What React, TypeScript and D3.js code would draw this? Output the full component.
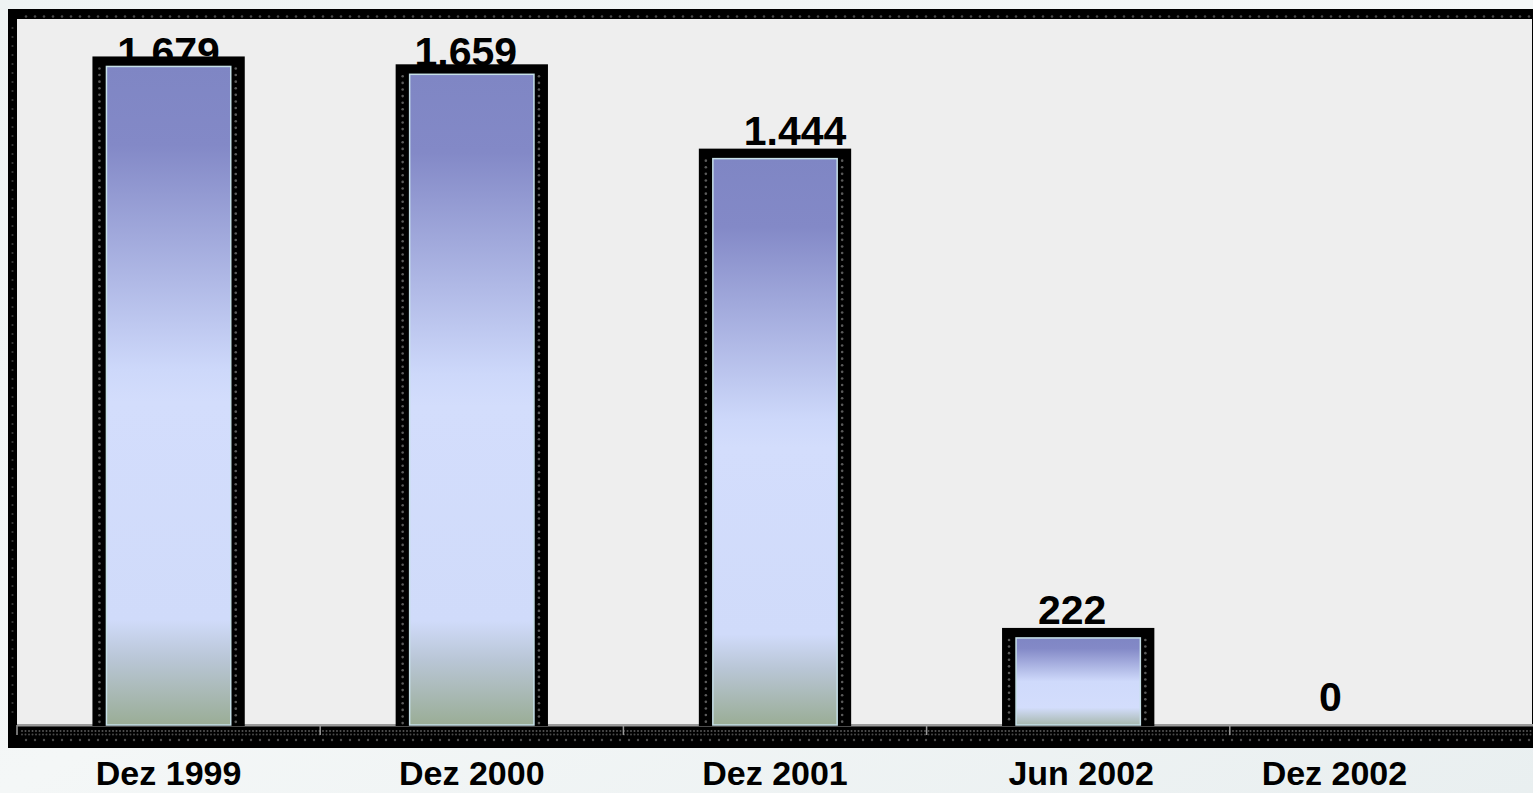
import React from 'react';
import * as d3 from 'd3';

const categories = ['Dez 1999', 'Dez 2000', 'Dez 2001', 'Jun 2002', 'Dez 2002'];
const values = [1679, 1659, 1444, 222, 0];
const valueLabels = ['1.679', '1.659', '1.444', '222', '0'];
// hand-placed text in the original slide is a little off the bar centres
const valueNudge = [0, -6, 20, -6, -51];
const categoryNudge = [0, 0, 0, 3, -47];

const W = 1533;
const H = 793;
const plot = { left: 17, right: 1532, top: 19, bottom: 725 };
const FONT = '"Liberation Sans", Arial, sans-serif';

const App: React.FC = () => {
  const x = d3
    .scaleBand<string>()
    .domain(categories)
    .range([plot.left, plot.right + 1])
    .paddingInner(0.59)
    .paddingOuter(0.295);
  const y = d3.scaleLinear().domain([0, 1800]).range([plot.bottom, plot.top]);

  const bw = x.bandwidth();
  const side = 14; // black frame around bars
  const cap = 10;

  // dotted decoration helpers
  const dotCol = (cx: number, y0: number, y1: number, step: number) =>
    d3.range(y0, y1, step).map((yy) => [cx, yy] as [number, number]);
  const dotRow = (cy: number, x0: number, x1: number, step: number) =>
    d3.range(x0, x1, step).map((xx) => [xx, cy] as [number, number]);

  return (
    <svg
      width={W}
      height={H}
      viewBox={`0 0 ${W} ${H}`}
      style={{ position: 'absolute', left: 0, top: 0, display: 'block' }}
    >
      <defs>
        <linearGradient id="bg" x1="0" y1="0" x2="1" y2="1">
          <stop offset="0" stopColor="#eef3f3" />
          <stop offset="0.5" stopColor="#f4f7f7" />
          <stop offset="1" stopColor="#e9eff0" />
        </linearGradient>
        <linearGradient id="barFill" x1="0" y1="0" x2="0" y2="1">
          <stop offset="0" stopColor="#7f86c4" />
          <stop offset="0.12" stopColor="#8389c7" />
          <stop offset="0.46" stopColor="#cdd8fa" />
          <stop offset="0.51" stopColor="#d3ddfc" />
          <stop offset="0.84" stopColor="#d0dbfa" />
          <stop offset="0.9" stopColor="#b9c6d6" />
          <stop offset="1" stopColor="#9aad96" />
        </linearGradient>
        <linearGradient id="barFillShort" x1="0" y1="0" x2="0" y2="1">
          <stop offset="0" stopColor="#7f86c4" />
          <stop offset="0.12" stopColor="#8389c7" />
          <stop offset="0.5" stopColor="#cfdafb" />
          <stop offset="0.8" stopColor="#d3ddfc" />
          <stop offset="1" stopColor="#a7b8ae" />
        </linearGradient>
      </defs>

      <rect width={W} height={H} fill="url(#bg)" />

      {/* outer frame */}
      <rect x={8} y={9} width={W - 8} height={748 - 9} fill="#000" />
      <rect
        x={plot.left}
        y={plot.top}
        width={plot.right - plot.left}
        height={plot.bottom - plot.top}
        fill="#eeeeee"
      />
      {dotRow(16.5, 26, W, 9).map(([cx, cy], i) => (
        <circle key={`t${i}`} cx={cx} cy={cy} r={1.3} fill="#4a4a4a" />
      ))}
      {dotCol(12.5, 28, 720, 9).map(([cx, cy], i) => (
        <circle key={`l${i}`} cx={cx} cy={cy} r={1.1} fill="#3a3a3a" />
      ))}

      {/* bottom band */}
      <rect x={plot.left} y={plot.bottom - 1} width={W - plot.left} height={2.5} fill="#9a9a9a" />
      {dotRow(731, 22, W, 3.5).map(([cx, cy], i) => (
        <circle key={`b1${i}`} cx={cx} cy={cy} r={1} fill="#555" />
      ))}
      {dotRow(734.5, 22, W, 3.5).map(([cx, cy], i) => (
        <circle key={`b2${i}`} cx={cx} cy={cy} r={1} fill="#4a4a4a" />
      ))}
      {dotRow(740, 26, W, 9).map(([cx, cy], i) => (
        <circle key={`b3${i}`} cx={cx} cy={cy} r={1.2} fill="#4a4a4a" />
      ))}
      {x.domain().map((c, i) => (
        <line
          key={`tk${i}`}
          x1={(x(c) ?? 0) - (x.step() - bw) / 2}
          x2={(x(c) ?? 0) - (x.step() - bw) / 2}
          y1={plot.bottom}
          y2={plot.bottom + 10}
          stroke="#9a9a9a"
          strokeWidth={1.5}
        />
      ))}

      {/* value labels sit behind the bars */}
      {values.map((v, i) => {
        const cx = (x(categories[i]) ?? 0) + bw / 2 + valueNudge[i];
        const base = Math.max(y(v) - cap - 4, 66);
        return (
          <text
            key={`v${i}`}
            x={cx}
            y={base}
            textAnchor="middle"
            fontFamily={FONT}
            fontWeight="bold"
            fontSize={41}
            fill="#000"
          >
            {valueLabels[i]}
          </text>
        );
      })}

      {/* bars */}
      {values.map((v, i) => {
        if (v <= 0) return null;
        const bx = x(categories[i]) ?? 0;
        const top = y(v);
        const h = plot.bottom - top;
        return (
          <g key={`bar${i}`}>
            <rect
              x={bx - side}
              y={top - cap}
              width={bw + side * 2}
              height={h + cap + 1}
              fill="#000"
            />
            {dotCol(bx - 7, top + 2, plot.bottom, 6.6).map(([cx, cy], j) => (
              <circle key={`dl${j}`} cx={cx} cy={cy} r={1.3} fill="#5a5a5a" />
            ))}
            {dotCol(bx + bw + 5, top + 2, plot.bottom, 6.6).map(([cx, cy], j) => (
              <circle key={`dr${j}`} cx={cx} cy={cy} r={1.3} fill="#5a5a5a" />
            ))}
            <rect
              x={bx}
              y={top}
              width={bw}
              height={h}
              fill={h < 150 ? 'url(#barFillShort)' : 'url(#barFill)'}
              stroke="#c6e0e8"
              strokeWidth={1.5}
            />
          </g>
        );
      })}

      {/* category labels */}
      {categories.map((c, i) => (
        <text
          key={`c${i}`}
          x={(x(c) ?? 0) + bw / 2 + categoryNudge[i]}
          y={785}
          textAnchor="middle"
          fontFamily={FONT}
          fontWeight="bold"
          fontSize={34}
          fill="#000"
        >
          {c}
        </text>
      ))}
    </svg>
  );
};

export default App;
